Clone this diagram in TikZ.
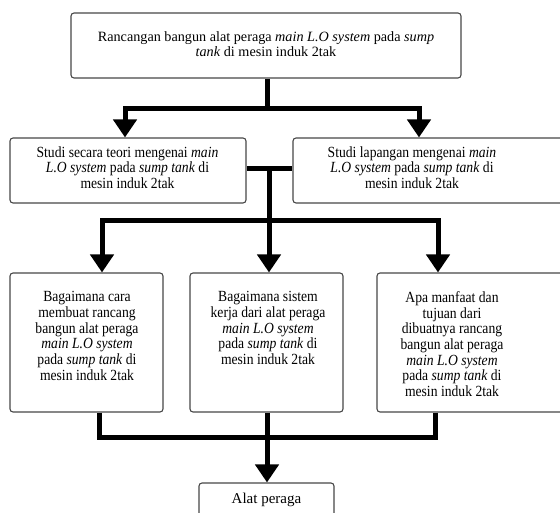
\documentclass[tikz,border=0pt]{standalone}
\usepackage{fontspec}
\setmainfont{Liberation Serif}
\newfontfamily\condserif[FakeStretch=0.88]{Liberation Serif}
\usetikzlibrary{arrows.meta}
\begin{document}
\begin{tikzpicture}[x=1pt,y=-1pt,
  box/.style={draw=black!72, line width=1.1pt, rounded corners=3pt, inner sep=0pt},
  txt/.style={align=center, font=\condserif\fontsize{15.5}{15.7}\selectfont, inner sep=0pt, anchor=north},
  toptxt/.style={align=center, font=\fontsize{14.2}{15.4}\selectfont, inner sep=0pt, anchor=north},
  conn/.style={line width=5pt, black, line join=miter},
  arr/.style={conn, -{Triangle[width=23pt,length=18pt]}}]
\useasboundingbox (0,0) rectangle (560,512);
\clip (0,0) rectangle (560,512);
% boxes
\node[box, minimum width=390pt, minimum height=65pt] (top) at (266,45.5) {};
\node[box, minimum width=236pt, minimum height=65pt] (ml) at (128,170.5) {};
\node[box, minimum width=297pt, minimum height=65pt] (mr) at (441.5,170.5) {};
\node[box, minimum width=153pt, minimum height=139pt] (bl) at (86.5,342.5) {};
\node[box, minimum width=153pt, minimum height=139pt] (bm) at (266.5,342.5) {};
\node[box, minimum width=213pt, minimum height=139pt] (br) at (483.5,342.5) {};
\node[box, minimum width=135pt, minimum height=40pt] (fin) at (266.5,503) {};
% texts
\node[toptxt] (ttop) at (266,31) {Rancangan bangun alat peraga \textit{main L.O system} pada \textit{sump}\\\textit{tank} di mesin induk 2tak};
\node[txt] (tml) at (127.5,146.2) {Studi secara teori mengenai \textit{main}\\\textit{L.O system} pada \textit{sump tank} di\\mesin induk 2tak};
\node[txt] (tmr) at (412,146.2) {Studi lapangan mengenai \textit{main}\\\textit{L.O system} pada \textit{sump tank} di\\mesin induk 2tak};
\node[txt] (tbl) at (87,291.2) {Bagaimana cara\\membuat rancang\\bangun alat peraga\\\textit{main L.O system}\\pada \textit{sump tank} di\\mesin induk 2tak};
\node[txt] (tbm) at (268,291.2) {Bagaimana sistem\\kerja dari alat peraga\\\textit{main L.O system}\\pada \textit{sump tank} di\\mesin induk 2tak};
\node[txt] (tbr) at (452,291.2) {Apa manfaat dan\\tujuan dari\\dibuatnya rancang\\bangun alat peraga\\\textit{main L.O system}\\pada \textit{sump tank} di\\mesin induk 2tak};
\node[txt, font=\fontsize{15}{16}\selectfont] (tfin) at (266.5,492.8) {Alat peraga};
% junction coordinates
\coordinate (j1) at (267,108);
\coordinate (xa) at (125,0);
\coordinate (xb) at (419,0);
\coordinate (j2) at (269,168);
\coordinate (j3) at (269,220);
\coordinate (xc) at (102,0);
\coordinate (xd) at (438,0);
\coordinate (j4) at (267,437);
\coordinate (xe) at (99,0);
\coordinate (xf) at (435,0);
% connectors
\draw[conn] (top.south -| j1) -- (j1);
\draw[arr] (j1) -| (xa |- ml.north);
\draw[arr] (j1) -| (xb |- mr.north);
\draw[conn] (ml.east |- j2) -- (mr.west |- j2);
\draw[conn] (j2) -- (j3);
\draw[arr] (j3) -| (xc |- bl.north);
\draw[arr] (j3) -- (j3 |- bm.north);
\draw[arr] (j3) -| (xd |- br.north);
\draw[conn] (xe |- bl.south) |- (j4);
\draw[conn] (xf |- br.south) |- (j4);
\draw[conn] (j4 |- bm.south) -- (j4);
\draw[arr] (j4) -- (j4 |- fin.north);
\end{tikzpicture}
\end{document}
